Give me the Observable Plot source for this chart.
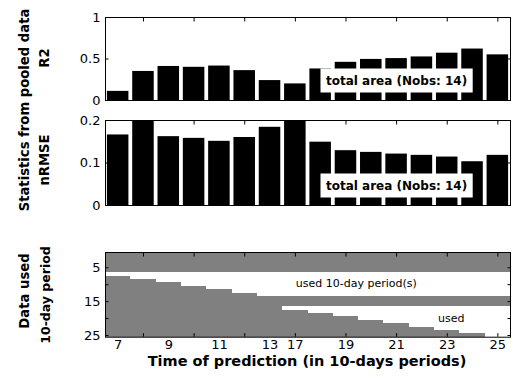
<!DOCTYPE html>
<html><head><meta charset="utf-8">
<script src="https://cdn.jsdelivr.net/npm/d3@7"></script>
<script src="https://cdn.jsdelivr.net/npm/@observablehq/plot@0.6"></script>
<style>
body{margin:0;background:#fff;font-family:"DejaVu Sans",sans-serif;}
#c{position:relative;width:513px;height:378px;overflow:hidden;background:#fff;}
.p{position:absolute;left:0;}
.t{position:absolute;white-space:nowrap;font-weight:bold;font-size:13px;color:#000;transform:translate(-50%,-50%) rotate(-90deg);}
.xt{position:absolute;white-space:nowrap;font-weight:bold;font-size:14.5px;color:#000;transform:translate(-50%,-50%);}
</style></head><body><div id="c"></div>
<script>
// ---- data ----
const times = [7, 8, 9, 10, 11, 12, 13, 17, 18, 19, 20, 21, 22, 23, 24, 25];
const r2 = [0.11, 0.35, 0.41, 0.40, 0.415, 0.36, 0.24, 0.20, 0.38, 0.46, 0.495, 0.505, 0.525, 0.57, 0.62, 0.55];
const nrmse = [0.166, 0.198, 0.162, 0.158, 0.151, 0.160, 0.184, 0.198, 0.149, 0.129, 0.125, 0.121, 0.118, 0.114, 0.103, 0.118];
const periods = [1,2,3,4,5,6,7,8,9,10,11,12,13,14,15,16,17,18,19,20,21,22,23,24,25];
const unusedPeriods = [1, 2, 3, 4, 5, 6, 14, 15, 16];
const xTickLabels = [7, 9, 11, 13, 17, 19, 21, 23, 25];
const xTickMarks = [8, 10, 12, 17, 19, 21, 23, 25];
const r2Ticks = [0, 0.5, 1];
const nrmseTicks = [0, 0.1, 0.2];
const periodTickLabels = [5, 15, 25];
const periodTickMarks = [5, 10, 15, 20, 25];
const boxLabel = "total area (Nobs: 14)";
const boxAt = 21;
const usedLabel1 = {t: 20, p: 9.7, text: "used 10-day period(s)"};
const usedLabel2 = {t: 23, p: 20, text: "used"};

const W = 513;
const container = document.getElementById("c");
const GRAY = "#808080";

function place(svg, top) {
  const d = document.createElement("div");
  d.className = "p";
  d.style.top = top + "px";
  d.appendChild(svg);
  container.appendChild(d);
  return svg;
}

function addBox(svg) {
  d3.select(svg).selectAll("text").filter(function () { return this.textContent === boxLabel; })
    .each(function () {
      const b = this.getBBox();
      const r = document.createElementNS("http://www.w3.org/2000/svg", "rect");
      r.setAttribute("x", b.x - 5.5);
      r.setAttribute("y", b.y - 5);
      r.setAttribute("width", b.width + 11);
      r.setAttribute("height", b.height + 10);
      r.setAttribute("fill", "white");
      const tr = this.getAttribute("transform");
      if (tr) r.setAttribute("transform", tr);
      this.parentNode.insertBefore(r, this);
    });
}

function barPanel(values, yDomain, yTicks, top, height, mt, mb) {
  const rows = times.map((t, i) => ({t, v: values[i]}));
  const svg = Plot.plot({
    width: W, height,
    marginLeft: 105, marginRight: 3, marginTop: mt, marginBottom: mb,
    style: {fontFamily: "DejaVu Sans", fontSize: "13px", color: "black", background: "white"},
    x: {type: "band", domain: times, paddingInner: 0.15, paddingOuter: 0.075, align: 0.5, round: false, label: null},
    y: {domain: yDomain, label: null},
    marks: [
      Plot.barY(rows, {x: "t", y: "v", fill: "black"}),
      Plot.axisX(xTickMarks, {anchor: "top", tickSize: -3.5, tickFormat: () => "", stroke: "black"}),
      Plot.axisX(xTickMarks, {anchor: "bottom", tickSize: -3.5, tickFormat: () => "", stroke: "black"}),
      Plot.axisY(yTicks, {anchor: "left", tickSize: -3.5, tickFormat: () => "", stroke: "black"}),
      Plot.axisY(yTicks, {anchor: "right", tickSize: -3.5, tickFormat: () => "", stroke: "black"}),
      Plot.axisY(yTicks, {anchor: "left", tickSize: 0, tickPadding: 5, fontSize: 13, tickFormat: d => String(d), label: null}),
      Plot.frame({stroke: "black"}),
      Plot.text([boxLabel], {x: () => boxAt, frameAnchor: "bottom", dy: -16, text: d => d, fontWeight: "bold", fontSize: 12, fill: "black"})
    ]
  });
  place(svg, top);
  addBox(svg);
}

barPanel(r2, [0, 1], r2Ticks, 0, 108, 17, 8);
barPanel(nrmse, [0, 0.2], nrmseTicks, 108, 104, 12, 7);

// bottom panel
const cells = [];
times.forEach((t) => {
  periods.forEach((p) => {
    const used = !unusedPeriods.includes(p) && p <= t;
    cells.push({t, p, used});
  });
});

const svg3 = Plot.plot({
  width: W, height: 166,
  marginLeft: 105, marginRight: 3, marginTop: 40, marginBottom: 41.3,
  style: {fontFamily: "DejaVu Sans", fontSize: "13px", color: "black", background: "white"},
  x: {type: "band", domain: times, padding: 0, round: false, label: null},
  y: {domain: [25.5, 0.5], label: null},
  marks: [
    Plot.barY(cells, {x: "t", y1: d => d.p - 0.5, y2: d => d.p + 0.5, fill: d => d.used ? "white" : GRAY, shapeRendering: "crispEdges"}),
    Plot.text([usedLabel1], {x: "t", y: "p", text: "text", dx: -15, fontSize: 11, fill: "black"}),
    Plot.text([usedLabel2], {x: "t", y: "p", text: "text", dx: 4, fontSize: 11, fill: "black"}),
    Plot.axisX(xTickMarks, {anchor: "top", tickSize: -3.5, tickFormat: () => "", stroke: "black"}),
    Plot.axisX(xTickMarks, {anchor: "bottom", tickSize: -3.5, tickFormat: () => "", stroke: "black"}),
    Plot.axisX(xTickLabels, {anchor: "bottom", tickSize: 0, tickPadding: 3, fontSize: 13, label: null}),
    Plot.axisY(periodTickMarks, {anchor: "left", tickSize: -3.5, tickFormat: () => "", stroke: "black"}),
    Plot.axisY(periodTickMarks, {anchor: "right", tickSize: -3.5, tickFormat: () => "", stroke: "black"}),
    Plot.axisY(periodTickLabels, {anchor: "left", tickSize: 0, tickPadding: 5, fontSize: 13, label: null}),
    Plot.frame({stroke: "black"})
  ]
});
place(svg3, 212);

// titles
function title(text, x, y, cls, size) {
  const d = document.createElement("div");
  d.className = cls;
  d.textContent = text;
  d.style.left = x + "px";
  d.style.top = y + "px";
  if (size) d.style.fontSize = size + "px";
  container.appendChild(d);
}
title("Statistics from pooled data", 24, 110, "t", 13.2);
title("R2", 44, 58, "t", 13.2);
title("nRMSE", 44, 160, "t", 13.2);
title("Data used", 24, 291, "t", 13.2);
title("10-day period", 45, 295, "t", 12.5);
title("Time of prediction (in 10-days periods)", 307, 361, "xt", 14.5);
</script></body></html>
